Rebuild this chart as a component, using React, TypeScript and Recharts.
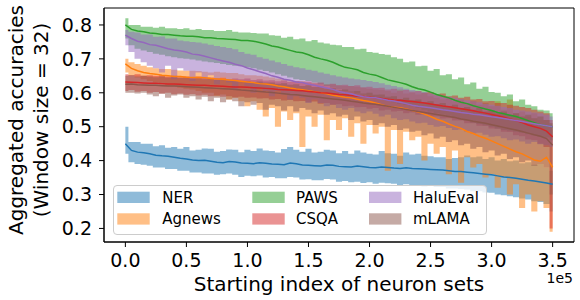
import { ComposedChart, Area, Line, XAxis, YAxis, ReferenceArea, Legend } from 'recharts';

// starting index of neuron set (one sample every 5000)
const xs = [
  0, 5000, 10000, 15000, 20000, 25000, 30000, 35000, 40000, 45000,
  50000, 55000, 60000, 65000, 70000, 75000, 80000, 85000, 90000, 95000,
  100000, 105000, 110000, 115000, 120000, 125000, 130000, 135000, 140000, 145000,
  150000, 155000, 160000, 165000, 170000, 175000, 180000, 185000, 190000, 195000,
  200000, 205000, 210000, 215000, 220000, 225000, 230000, 235000, 240000, 245000,
  250000, 255000, 260000, 265000, 270000, 275000, 280000, 285000, 290000, 295000,
  300000, 305000, 310000, 315000, 320000, 325000, 330000, 335000, 340000, 345000,
  350000,
];

const nerMean = [
  0.45, 0.43, 0.425, 0.423, 0.42, 0.416, 0.414, 0.413, 0.41, 0.407,
  0.405, 0.402, 0.40, 0.401, 0.398, 0.395, 0.394, 0.397, 0.396, 0.393,
  0.392, 0.391, 0.394, 0.392, 0.39, 0.389, 0.388, 0.393, 0.391, 0.387,
  0.386, 0.385, 0.384, 0.387, 0.386, 0.383, 0.382, 0.381, 0.384, 0.382,
  0.380, 0.379, 0.381, 0.38, 0.378, 0.377, 0.379, 0.377, 0.376, 0.375,
  0.374, 0.373, 0.372, 0.37, 0.368, 0.368, 0.366, 0.364, 0.362, 0.36,
  0.358, 0.355, 0.352, 0.35, 0.348, 0.345, 0.342, 0.34, 0.337, 0.334,
  0.33,
];
const nerHi = [
  0.50, 0.455, 0.455, 0.45, 0.45, 0.442, 0.445, 0.438, 0.44, 0.435,
  0.44, 0.43, 0.432, 0.436, 0.435, 0.426, 0.428, 0.433, 0.432, 0.425,
  0.432, 0.428, 0.436, 0.43, 0.428, 0.424, 0.434, 0.44, 0.432, 0.426,
  0.435, 0.424, 0.426, 0.432, 0.43, 0.422, 0.428, 0.42, 0.43, 0.424,
  0.42, 0.418, 0.428, 0.422, 0.42, 0.414, 0.424, 0.418, 0.42, 0.414,
  0.413, 0.41, 0.41, 0.405, 0.408, 0.41, 0.415, 0.41, 0.412, 0.405,
  0.41, 0.40, 0.405, 0.398, 0.40, 0.392, 0.395, 0.388, 0.39, 0.38,
  0.37,
];
const nerLo = [
  0.42, 0.395, 0.39, 0.388, 0.385, 0.38, 0.38, 0.375, 0.375, 0.37,
  0.37, 0.365, 0.365, 0.362, 0.362, 0.358, 0.36, 0.362, 0.358, 0.352,
  0.355, 0.354, 0.356, 0.35, 0.352, 0.348, 0.348, 0.352, 0.35, 0.344,
  0.345, 0.342, 0.342, 0.346, 0.344, 0.338, 0.34, 0.336, 0.338, 0.334,
  0.336, 0.332, 0.335, 0.333, 0.332, 0.328, 0.33, 0.327, 0.328, 0.324,
  0.325, 0.322, 0.322, 0.318, 0.318, 0.316, 0.315, 0.31, 0.31, 0.306,
  0.305, 0.30, 0.298, 0.295, 0.292, 0.288, 0.285, 0.28, 0.278, 0.272,
  0.25,
];

const agMean = [
  0.685, 0.672, 0.665, 0.66, 0.657, 0.655, 0.652, 0.65, 0.648, 0.648,
  0.646, 0.645, 0.645, 0.644, 0.642, 0.641, 0.640, 0.638, 0.636, 0.634,
  0.632, 0.63, 0.627, 0.626, 0.624, 0.62, 0.618, 0.614, 0.611, 0.609,
  0.606, 0.603, 0.600, 0.597, 0.593, 0.59, 0.587, 0.585, 0.581, 0.577,
  0.574, 0.57, 0.565, 0.56, 0.557, 0.556, 0.552, 0.548, 0.543, 0.537,
  0.53, 0.522, 0.516, 0.508, 0.501, 0.495, 0.486, 0.48, 0.472, 0.466,
  0.458, 0.45, 0.442, 0.434, 0.426, 0.42, 0.411, 0.402, 0.398, 0.41,
  0.38,
];
const agHi = [
  0.70, 0.69, 0.685, 0.68, 0.675, 0.672, 0.67, 0.67, 0.668, 0.666,
  0.665, 0.665, 0.664, 0.662, 0.66, 0.662, 0.66, 0.658, 0.658, 0.655,
  0.652, 0.652, 0.65, 0.648, 0.645, 0.642, 0.64, 0.638, 0.635, 0.635,
  0.63, 0.63, 0.628, 0.626, 0.625, 0.622, 0.62, 0.62, 0.618, 0.615,
  0.612, 0.61, 0.608, 0.605, 0.60, 0.61, 0.598, 0.60, 0.595, 0.60,
  0.59, 0.585, 0.58, 0.585, 0.575, 0.58, 0.57, 0.575, 0.565, 0.57,
  0.56, 0.575, 0.55, 0.58, 0.54, 0.545, 0.53, 0.54, 0.52, 0.52,
  0.50,
];
const agLo = [
  0.66, 0.65, 0.645, 0.64, 0.635, 0.63, 0.625, 0.62, 0.62, 0.615,
  0.612, 0.61, 0.605, 0.60, 0.60, 0.59, 0.595, 0.58, 0.585, 0.575,
  0.56, 0.575, 0.55, 0.53, 0.555, 0.50, 0.545, 0.52, 0.54, 0.44,
  0.53, 0.50, 0.535, 0.46, 0.52, 0.49, 0.525, 0.47, 0.51, 0.45,
  0.505, 0.48, 0.50, 0.37, 0.49, 0.39, 0.485, 0.46, 0.47, 0.40,
  0.45, 0.42, 0.44, 0.36, 0.43, 0.335, 0.41, 0.38, 0.39, 0.35,
  0.36, 0.32, 0.35, 0.30, 0.33, 0.26, 0.30, 0.25, 0.28, 0.26,
  0.19,
];

const pawsMean = [
  0.80, 0.787, 0.782, 0.78, 0.776, 0.775, 0.772, 0.772, 0.77, 0.768,
  0.767, 0.767, 0.765, 0.762, 0.762, 0.76, 0.759, 0.758, 0.757, 0.754,
  0.754, 0.752, 0.748, 0.744, 0.738, 0.735, 0.73, 0.725, 0.72, 0.718,
  0.712, 0.705, 0.70, 0.696, 0.69, 0.682, 0.675, 0.672, 0.668, 0.66,
  0.655, 0.652, 0.645, 0.638, 0.634, 0.63, 0.625, 0.618, 0.612, 0.608,
  0.602, 0.595, 0.59, 0.585, 0.578, 0.572, 0.568, 0.562, 0.557, 0.552,
  0.548, 0.542, 0.538, 0.534, 0.53, 0.524, 0.518, 0.512, 0.506, 0.503,
  0.50,
];
const pawsHi = [
  0.82, 0.80, 0.80, 0.795, 0.795, 0.792, 0.795, 0.79, 0.79, 0.788,
  0.79, 0.786, 0.788, 0.785, 0.785, 0.782, 0.782, 0.785, 0.78, 0.778,
  0.778, 0.776, 0.775, 0.775, 0.77, 0.768, 0.762, 0.765, 0.758, 0.76,
  0.752, 0.756, 0.748, 0.745, 0.742, 0.74, 0.735, 0.735, 0.728, 0.73,
  0.72, 0.718, 0.714, 0.712, 0.705, 0.70, 0.69, 0.692, 0.678, 0.68,
  0.665, 0.67, 0.652, 0.655, 0.64, 0.645, 0.625, 0.63, 0.612, 0.618,
  0.602, 0.60, 0.59, 0.595, 0.575, 0.58, 0.565, 0.56, 0.55, 0.548,
  0.54,
];
const pawsLo = [
  0.76, 0.74, 0.73, 0.725, 0.72, 0.715, 0.712, 0.708, 0.705, 0.702,
  0.70, 0.698, 0.695, 0.692, 0.69, 0.688, 0.685, 0.682, 0.68, 0.678,
  0.675, 0.672, 0.668, 0.664, 0.66, 0.655, 0.65, 0.645, 0.64, 0.638,
  0.635, 0.63, 0.625, 0.62, 0.615, 0.61, 0.605, 0.602, 0.598, 0.594,
  0.59, 0.585, 0.58, 0.576, 0.572, 0.568, 0.565, 0.56, 0.555, 0.55,
  0.545, 0.54, 0.535, 0.532, 0.528, 0.522, 0.518, 0.512, 0.508, 0.504,
  0.50, 0.495, 0.49, 0.488, 0.485, 0.482, 0.478, 0.474, 0.47, 0.468,
  0.46,
];

const csqaMean = [
  0.632, 0.631, 0.63, 0.629, 0.628, 0.628, 0.627, 0.626, 0.626, 0.625,
  0.624, 0.623, 0.622, 0.622, 0.621, 0.62, 0.619, 0.618, 0.617, 0.617,
  0.616, 0.615, 0.614, 0.613, 0.612, 0.61, 0.609, 0.608, 0.607, 0.606,
  0.604, 0.602, 0.60, 0.599, 0.597, 0.595, 0.594, 0.592, 0.59, 0.589,
  0.587, 0.585, 0.583, 0.581, 0.579, 0.578, 0.576, 0.574, 0.572, 0.57,
  0.567, 0.564, 0.561, 0.559, 0.556, 0.553, 0.55, 0.547, 0.543, 0.54,
  0.536, 0.532, 0.528, 0.523, 0.518, 0.512, 0.505, 0.50, 0.495, 0.487,
  0.47,
];
const csqaHi = [
  0.655, 0.652, 0.655, 0.65, 0.652, 0.65, 0.652, 0.648, 0.65, 0.646,
  0.648, 0.645, 0.648, 0.644, 0.645, 0.643, 0.645, 0.64, 0.642, 0.64,
  0.642, 0.638, 0.64, 0.636, 0.637, 0.634, 0.636, 0.632, 0.634, 0.63,
  0.633, 0.628, 0.63, 0.624, 0.627, 0.622, 0.624, 0.62, 0.622, 0.616,
  0.618, 0.614, 0.615, 0.61, 0.612, 0.606, 0.608, 0.604, 0.605, 0.60,
  0.602, 0.595, 0.598, 0.59, 0.592, 0.585, 0.588, 0.58, 0.582, 0.575,
  0.576, 0.57, 0.57, 0.565, 0.562, 0.558, 0.555, 0.55, 0.545, 0.54,
  0.52,
];
const csqaLo = [
  0.605, 0.608, 0.603, 0.605, 0.6, 0.602, 0.598, 0.6, 0.596, 0.598,
  0.594, 0.596, 0.592, 0.594, 0.59, 0.592, 0.588, 0.59, 0.586, 0.588,
  0.585, 0.586, 0.583, 0.584, 0.58, 0.582, 0.577, 0.579, 0.575, 0.576,
  0.572, 0.574, 0.568, 0.57, 0.565, 0.566, 0.56, 0.562, 0.557, 0.558,
  0.553, 0.555, 0.548, 0.55, 0.545, 0.546, 0.54, 0.542, 0.535, 0.536,
  0.53, 0.53, 0.524, 0.525, 0.518, 0.518, 0.51, 0.51, 0.503, 0.502,
  0.495, 0.494, 0.485, 0.484, 0.475, 0.472, 0.462, 0.46, 0.45, 0.44,
  0.20,
];

const haluMean = [
  0.77, 0.76, 0.752, 0.748, 0.742, 0.74, 0.735, 0.73, 0.726, 0.724,
  0.72, 0.714, 0.712, 0.708, 0.703, 0.698, 0.694, 0.69, 0.684, 0.68,
  0.673, 0.668, 0.662, 0.657, 0.65, 0.646, 0.64, 0.637, 0.632, 0.63,
  0.625, 0.622, 0.618, 0.614, 0.61, 0.604, 0.60, 0.597, 0.592, 0.588,
  0.586, 0.585, 0.582, 0.578, 0.576, 0.572, 0.568, 0.563, 0.56, 0.558,
  0.556, 0.553, 0.55, 0.548, 0.545, 0.542, 0.54, 0.537, 0.535, 0.532,
  0.529, 0.527, 0.524, 0.521, 0.518, 0.515, 0.512, 0.509, 0.506, 0.503,
  0.50,
];
const haluHi = [
  0.785, 0.78, 0.778, 0.772, 0.772, 0.765, 0.766, 0.76, 0.76, 0.754,
  0.752, 0.75, 0.748, 0.745, 0.742, 0.738, 0.735, 0.732, 0.728, 0.72,
  0.715, 0.712, 0.705, 0.70, 0.695, 0.69, 0.685, 0.68, 0.675, 0.672,
  0.668, 0.665, 0.66, 0.656, 0.652, 0.648, 0.645, 0.642, 0.64, 0.638,
  0.635, 0.632, 0.628, 0.624, 0.62, 0.616, 0.612, 0.608, 0.605, 0.602,
  0.598, 0.594, 0.59, 0.588, 0.585, 0.582, 0.578, 0.575, 0.572, 0.568,
  0.565, 0.562, 0.558, 0.555, 0.55, 0.548, 0.545, 0.542, 0.54, 0.535,
  0.53,
];
const haluLo = [
  0.74, 0.72, 0.70, 0.69, 0.68, 0.672, 0.66, 0.68, 0.64, 0.672,
  0.665, 0.635, 0.66, 0.64, 0.652, 0.625, 0.645, 0.63, 0.61, 0.635,
  0.62, 0.60, 0.615, 0.605, 0.59, 0.605, 0.595, 0.58, 0.59, 0.585,
  0.57, 0.58, 0.57, 0.56, 0.565, 0.555, 0.55, 0.555, 0.545, 0.54,
  0.545, 0.538, 0.53, 0.535, 0.525, 0.52, 0.522, 0.515, 0.51, 0.512,
  0.505, 0.50, 0.502, 0.496, 0.49, 0.492, 0.486, 0.48, 0.482, 0.476,
  0.47, 0.472, 0.466, 0.46, 0.462, 0.456, 0.45, 0.455, 0.448, 0.445,
  0.44,
];

const lamaMean = [
  0.625, 0.626, 0.624, 0.623, 0.622, 0.622, 0.621, 0.62, 0.62, 0.619,
  0.618, 0.617, 0.616, 0.615, 0.614, 0.613, 0.612, 0.611, 0.61, 0.608,
  0.607, 0.605, 0.604, 0.602, 0.601, 0.599, 0.597, 0.595, 0.594, 0.592,
  0.59, 0.588, 0.586, 0.584, 0.582, 0.58, 0.578, 0.575, 0.573, 0.57,
  0.568, 0.566, 0.563, 0.56, 0.557, 0.554, 0.551, 0.548, 0.545, 0.542,
  0.539, 0.536, 0.533, 0.53, 0.527, 0.523, 0.52, 0.516, 0.513, 0.51,
  0.506, 0.502, 0.498, 0.494, 0.49, 0.486, 0.481, 0.476, 0.472, 0.465,
  0.445,
];
const lamaHi = [
  0.65, 0.652, 0.648, 0.65, 0.648, 0.646, 0.648, 0.645, 0.646, 0.644,
  0.645, 0.642, 0.643, 0.64, 0.642, 0.638, 0.64, 0.636, 0.638, 0.634,
  0.635, 0.632, 0.633, 0.63, 0.63, 0.627, 0.628, 0.624, 0.625, 0.62,
  0.622, 0.617, 0.618, 0.613, 0.614, 0.608, 0.61, 0.604, 0.605, 0.598,
  0.6, 0.594, 0.595, 0.588, 0.59, 0.582, 0.585, 0.578, 0.58, 0.572,
  0.575, 0.566, 0.57, 0.56, 0.565, 0.555, 0.558, 0.55, 0.555, 0.545,
  0.548, 0.54, 0.545, 0.535, 0.54, 0.53, 0.535, 0.525, 0.53, 0.52,
  0.51,
];
const lamaLo = [
  0.60, 0.60, 0.598, 0.60, 0.595, 0.59, 0.597, 0.585, 0.592, 0.595,
  0.585, 0.59, 0.58, 0.588, 0.575, 0.585, 0.572, 0.58, 0.575, 0.56,
  0.572, 0.565, 0.57, 0.55, 0.565, 0.56, 0.548, 0.56, 0.545, 0.555,
  0.55, 0.54, 0.548, 0.535, 0.54, 0.53, 0.535, 0.52, 0.53, 0.515,
  0.52, 0.505, 0.51, 0.50, 0.505, 0.49, 0.495, 0.485, 0.488, 0.475,
  0.48, 0.465, 0.47, 0.455, 0.46, 0.445, 0.45, 0.435, 0.44, 0.425,
  0.43, 0.415, 0.42, 0.405, 0.41, 0.395, 0.40, 0.385, 0.39, 0.38,
  0.30,
];

const xTicks = [0, 50000, 100000, 150000, 200000, 250000, 300000, 350000];
const yTicks = [0.2, 0.3, 0.4, 0.5, 0.6, 0.7, 0.8];

const series = [
  { key: 'ner', name: 'NER', color: '#1f77b4', mean: nerMean, lo: nerLo, hi: nerHi },
  { key: 'ag', name: 'Agnews', color: '#ff7f0e', mean: agMean, lo: agLo, hi: agHi },
  { key: 'paws', name: 'PAWS', color: '#2ca02c', mean: pawsMean, lo: pawsLo, hi: pawsHi },
  { key: 'csqa', name: 'CSQA', color: '#d62728', mean: csqaMean, lo: csqaLo, hi: csqaHi },
  { key: 'halu', name: 'HaluEval', color: '#9467bd', mean: haluMean, lo: haluLo, hi: haluHi },
  { key: 'lama', name: 'mLAMA', color: '#8c564b', mean: lamaMean, lo: lamaLo, hi: lamaHi },
];

const data = xs.map((x, i) => {
  const row: Record<string, any> = { x };
  series.forEach((s) => {
    row[s.key + 'Band'] = [s.lo[i], s.hi[i]];
    row[s.key + 'Mean'] = s.mean[i];
  });
  return row;
});

const FONT = 'DejaVu Sans';
const X_MIN = -17500;
const X_MAX = 367500;
const Y_MIN = 0.16;
const Y_MAX = 0.85;

// legend entries placed like matplotlib's ncol=3 legend
const legendPos = [
  { px: 4.3, tx: 49.3, row: 0 },
  { px: 4.3, tx: 49.3, row: 1 },
  { px: 139.3, tx: 183, row: 0 },
  { px: 139.3, tx: 183, row: 1 },
  { px: 256, tx: 300, row: 0 },
  { px: 256, tx: 300, row: 1 },
];

const LegendBox = () => (
  <div
    style={{
      width: 374,
      height: 50,
      boxSizing: 'border-box',
      border: '1px solid #cccccc',
      borderRadius: 4,
      background: 'rgba(255,255,255,0.8)',
    }}
  >
    <svg width={372} height={48} style={{ display: 'block', marginLeft: -1, marginTop: -1 }}>
      {series.map((s, i) => {
        const p = legendPos[i];
        const top = p.row === 0 ? 6.7 : 28.3;
        return (
          <g key={s.key}>
            <rect x={p.px} y={top} width={32.4} height={11.3} fill={s.color} fillOpacity={0.5} />
            <text x={p.tx} y={top + 11} fontSize={15} fontFamily={FONT} fill="#000">
              {s.name}
            </text>
          </g>
        );
      })}
    </svg>
  </div>
);

const xTitle = () => (
  <g>
    <text x={339} y={291} textAnchor="middle" fontSize={20} fontFamily={FONT} fill="#000">
      Starting index of neuron sets
    </text>
    <text x={573} y={283} textAnchor="end" fontSize={14} fontFamily={FONT} fill="#000">
      1e5
    </text>
  </g>
);

const yTitle = () => (
  <text transform="translate(0,120) rotate(-90)" textAnchor="middle" fontSize={20} fontFamily={FONT} fill="#000">
    <tspan x={0} y={22.5}>Aggregated accuracies</tspan>
    <tspan x={0} y={47.5}>(Window size = 32)</tspan>
  </text>
);

const App = () => {
  return (
    <div style={{ position: 'absolute', left: 0, top: 0 }}>
      <ComposedChart width={580} height={300} data={data} margin={{ top: 8, right: 6, bottom: 0, left: 0 }}>
        <XAxis
          dataKey="x"
          type="number"
          domain={[X_MIN, X_MAX]}
          ticks={xTicks}
          allowDataOverflow
          tickFormatter={(v: number) => (v / 100000).toFixed(1)}
          height={58}
          tickSize={5}
          tickMargin={7}
          stroke="#000"
          tick={{ fill: '#000', fontSize: 19, fontFamily: FONT }}
          label={xTitle}
        />
        <YAxis
          type="number"
          domain={[Y_MIN, Y_MAX]}
          ticks={yTicks}
          allowDataOverflow
          tickFormatter={(v: number) => v.toFixed(1)}
          width={104}
          tickSize={5}
          tickMargin={7}
          stroke="#000"
          tick={{ fill: '#000', fontSize: 19, fontFamily: FONT }}
          label={yTitle}
        />
        {series.flatMap((s) => [
          <Area
            key={s.key + 'Band'}
            dataKey={s.key + 'Band'}
            type="step"
            stroke="none"
            fill={s.color}
            fillOpacity={0.5}
            dot={false}
            activeDot={false}
            isAnimationActive={false}
            legendType="none"
          />,
          <Line
            key={s.key + 'Mean'}
            dataKey={s.key + 'Mean'}
            type="linear"
            stroke={s.color}
            strokeWidth={1.5}
            dot={false}
            activeDot={false}
            isAnimationActive={false}
            legendType="none"
          />,
        ])}
        <ReferenceArea
          x1={X_MIN}
          x2={X_MAX}
          y1={Y_MIN}
          y2={Y_MAX}
          fill="none"
          stroke="#000"
          strokeWidth={1}
          ifOverflow="visible"
        />
        <Legend
          layout="horizontal"
          verticalAlign="middle"
          align="center"
          content={() => <LegendBox />}
          wrapperStyle={{ left: 113, top: 185, width: 374, height: 50 }}
        />
      </ComposedChart>
    </div>
  );
};

export default App;
